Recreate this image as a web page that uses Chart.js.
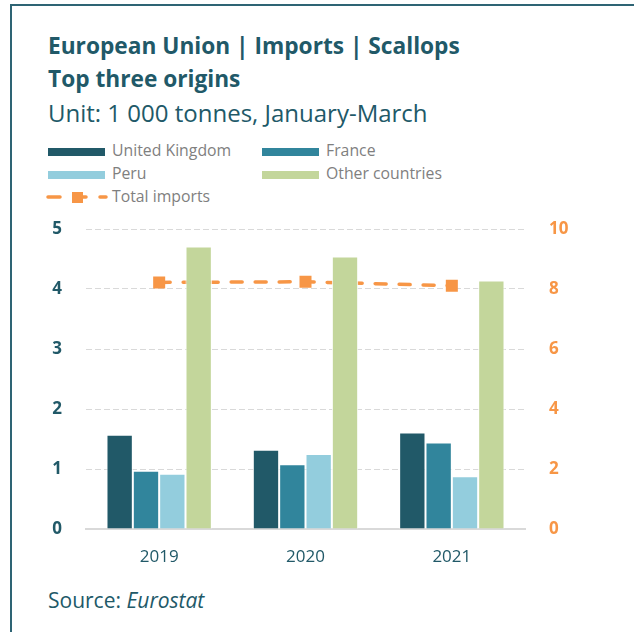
<!DOCTYPE html>
<html>
<head>
<meta charset="utf-8">
<script src="https://cdn.jsdelivr.net/npm/chart.js@4/dist/chart.umd.min.js"></script>
<style>
  body { margin: 0; width: 634px; height: 632px; overflow: hidden; background: #fff; font-family: 'Open Sans', sans-serif; position: relative; }
  .frame { position: absolute; left: 10px; top: 4px; width: 800px; height: 800px; border: 2px solid #2e6474; }
  .t { position: absolute; left: 48px; white-space: nowrap; line-height: 1; color: #215968; }
  .title { font-size: 22.7px; font-weight: bold; }
  .unit { font-size: 24px; }
  .leg { position: absolute; font-size: 15.8px; line-height: 1; color: #7f7f7f; white-space: nowrap; }
  .sw { position: absolute; height: 8px; width: 57px; }
  .source { font-size: 21px; top: 590px; }
  #wrap { position: absolute; left: 0; top: 210px; width: 634px; height: 370px; }
</style>
</head>
<body>
<div class="frame"></div>
<div class="t title" style="top:35px">European Union | Imports | Scallops</div>
<div class="t title" style="top:68px">Top three origins</div>
<div class="t unit" style="top:101px">Unit: 1 000 tonnes, January-March</div>
<div id="legend"></div>
<div id="wrap"><canvas id="chart"></canvas></div>
<div class="t source">Source: <i>Eurostat</i></div>
<script>
// data
const years = ['2019', '2020', '2021'];
const unitedKingdom = [1.57, 1.32, 1.61];
const france = [0.97, 1.08, 1.44];
const peru = [0.92, 1.25, 0.88];
const otherCountries = [4.71, 4.54, 4.14];
const totalImports = [8.22, 8.24, 8.11];

const seriesNames = ['United Kingdom', 'France', 'Peru', 'Other countries'];
const seriesColors = ['#215968', '#31859c', '#93cddd', '#c3d69b'];
const lineColor = '#f79646';

// legend, two columns like the original
function buildLegend() {
  const legend = document.getElementById('legend');
  const spots = [
    { x: 48, y: 148, ty: 143 }, { x: 262, y: 148, ty: 143 },
    { x: 48, y: 171, ty: 166 }, { x: 262, y: 171, ty: 166 }
  ];
  let html = seriesNames.map((name, i) => {
    const s = spots[i];
    return `<div class="sw" style="left:${s.x}px;top:${s.y}px;background:${seriesColors[i]}"></div>
      <div class="leg" style="left:${s.x + 64}px;top:${s.ty}px">${name}</div>`;
  }).join('');
  html += `<svg style="position:absolute;left:46px;top:191px" width="62" height="12">
      <line x1="2" y1="6" x2="60" y2="6" stroke="${lineColor}" stroke-width="3.5" stroke-linecap="round" stroke-dasharray="12 14"/>
      <rect x="26" y="1" width="11" height="11" fill="${lineColor}"/>
    </svg>
    <div class="leg" style="left:112px;top:189px">Total imports</div>`;
  legend.innerHTML = html;
}
buildLegend();

const barSets = [unitedKingdom, france, peru, otherCountries].map((vals, i) => ({
  type: 'bar',
  label: seriesNames[i],
  data: vals,
  backgroundColor: seriesColors[i],
  borderColor: '#ffffff',
  borderWidth: 1,
  categoryPercentage: 0.72,
  barPercentage: 1,
  yAxisID: 'y',
  order: 0
}));

const tickFont = { family: 'Open Sans', size: 17, weight: 'bold' };

// keep the tick padding from pushing the plot area down
function fixWidth(w) {
  return s => { s.width = w; s.paddingTop = 0; s.paddingBottom = 0; };
}

new Chart(document.getElementById('chart'), {
  data: {
    labels: years,
    datasets: [
      ...barSets,
      {
        type: 'line',
        label: 'Total imports',
        data: totalImports,
        borderColor: lineColor,
        backgroundColor: lineColor,
        borderWidth: 3.5,
        borderDash: [11, 13],
        borderCapStyle: 'round',
        pointStyle: 'rect',
        pointRadius: 8.5,
        pointBorderWidth: 0,
        pointBackgroundColor: lineColor,
        yAxisID: 'y2',
        order: 1
      }
    ]
  },
  options: {
    responsive: true,
    maintainAspectRatio: false,
    animation: false,
    layout: { padding: { top: 19, left: 0, right: 0, bottom: 0 } },
    plugins: { legend: { display: false }, tooltip: { enabled: false } },
    scales: {
      x: {
        grid: { display: false },
        border: { display: true, color: '#d9d9d9', width: 2 },
        ticks: { color: '#215968', font: { family: 'Open Sans', size: 17 }, padding: 10 },
        afterFit: s => { s.height = 51; }
      },
      y: {
        position: 'left',
        min: 0, max: 5,
        ticks: { stepSize: 1, color: '#215968', font: tickFont, padding: 24 },
        grid: { color: '#d9d9d9', lineWidth: 1, drawTicks: false },
        border: { display: false, dash: [6, 3] },
        afterFit: fixWidth(86)
      },
      y2: {
        position: 'right',
        min: 0, max: 10,
        ticks: { stepSize: 2, color: lineColor, font: tickFont, padding: 24 },
        grid: { display: false, drawTicks: false },
        border: { display: false },
        afterFit: fixWidth(109)
      }
    }
  }
});
</script>
</body>
</html>
